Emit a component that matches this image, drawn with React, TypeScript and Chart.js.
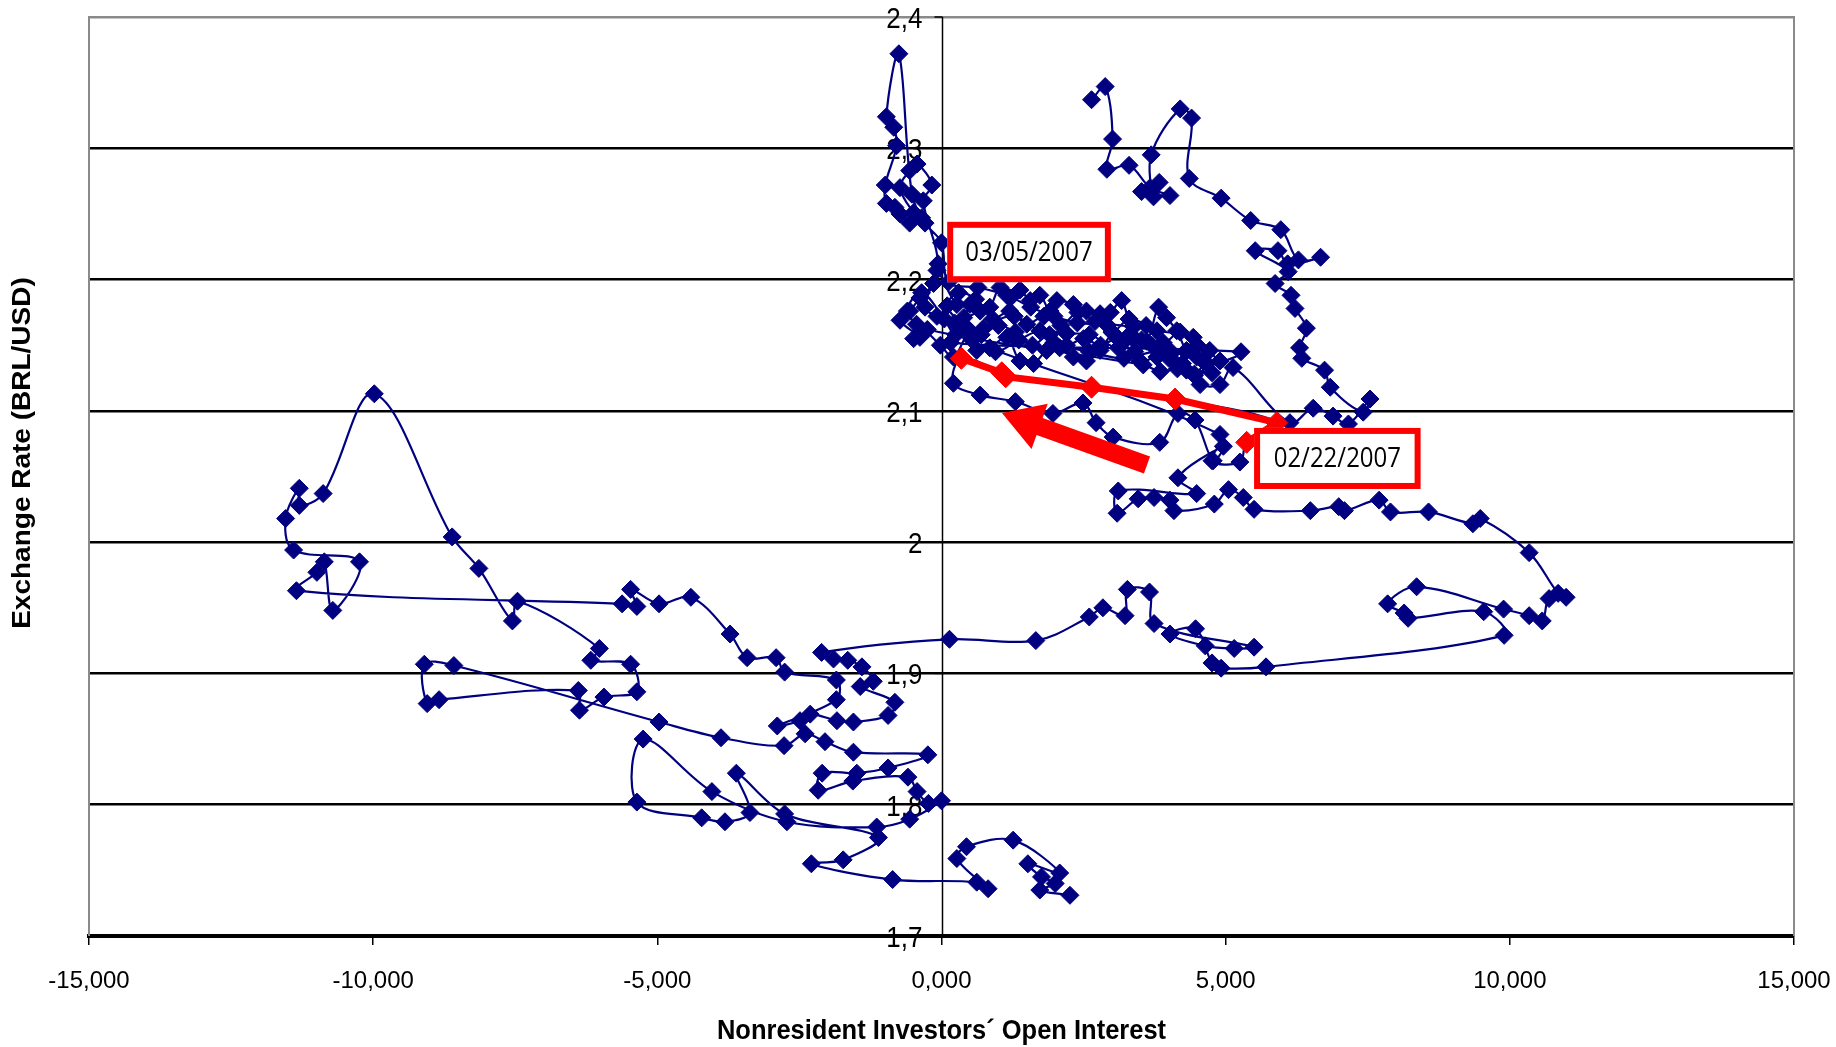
import React, { useEffect, useRef } from 'react';
import { Chart, registerables } from 'chart.js';

Chart.register(...registerables);

// Nonresident investors' open interest (x) and BRL/USD exchange rate (y), in path order
const openInterest = [
  2640, 2880, 3010, 2910, 3300, 3670, 4020, 3520, 3830, 3730, 3690, 4200, 4400, 4360, 4920, 5440, 5970, 6280, 6670, 6090,
  5920, 5520, 6100, 5870, 6150, 6220, 6420, 6300, 6340, 6740, 6840, 7420, 7540, 7160, 6890, 6540,
  6130, 5130, 4900, 4550, 4310, 4080, 3790, 3490, 3260, 3020, 2790, 2550, 2320, 2080, 1850, 1620, 1380, 1150, 850, 620,
  500, 210, -20, -440, -490, -380, -730, -560, -380, -140, -80, 270, 500, 390, 680, 850, 1030, 1210, 1380, 1560,
  1730, 1910, 2030, 2320, 2550, 2790, 2970, 3170, 3380, 3610, 3820, 3960, 4140, 4310, 4490, 4670,
  4450, 4040, 3520, 3110, 2600, 2200, 1730, 1360, 950, 540, 230, -80, -290, -60,
  -320, -170, -430, -560, -730, -490, -350, -560, -730, -820, -970, -990, -790, -840, -970, -750, -520, -290, 0,
  120, 640, 1150, 1570, 1980, 2390, 2900, 3380, 3790, 4430, 4720, 4900, 5270, 160, 740, 1280, 1980, 2600, 3210, 3830,
  4240, 4760,
  4500, 4200, 3900, 3600, 3300, 3000, 2700, 2400, 2100, 1800, 1500, 1200, 900, 600, 300, 100, 400, 700, 1000, 1300,
  1600, 1900, 2200, 2500, 2800, 3100, 3400, 3700, 4000, 4300, 4600, 4450, 4150, 3850, 3550, -250, -600, -350, 50, 250,
  4900, 4760, 5250,
  5370, 5900, 4110, 2640, 1130, 1060, 350,
  210, 680, 1300, 1960, 2490, 2720, 3020, 3840, 4160, 4460, 4780, 4960, 4160, 4490,
  3110, 3090, 3460, 3740, 4020, 4090, 4800, 5050, 5310, 5500, 6490, 6990, 7090, 7700, 7900, 8570, 9350, 9480, 10340, 10850,
  10990, 10690, 10570, 10340, 9890, 8360, 7850, 8140, 8210, 9540, 9900, 5710, 4920, 4760, 4470, 4020, 4640, 5150, 5500, 3740,
  3660, 3270, 3230, 2840, 2600, 1660, 140, -2110,
  -1900, -1650, -1400, -1200, -1430, -820, -940, -1550, -1840, -2310, -2490, -2890, -1850, -1850, -2760, -2910, -3420, -3720,
  -4410, -4970, -5470, -5360, -5620,
  -11350, -10990, -10860, -10710, -10240, -11400, -11540, -11300, -11300, -10880, -9980, -8610, -8140, -7550, -7460, -6020,
  -6170, -5470, -5360, -5940, -6370, -6390, -8840, -9050, -9100, -8580, -4970, -3880, -2770,
  -2400, -2050, -1550, -240, -940, -1490, -2100, -2170, -1560, -590, -430, -230, 0, -560, -1140, -2720, -4040, -5250, -5360,
  -4220, -3810, -3370, -3610, -2760, -1110, -1730, -2290, -860, 620, 820, 270, 440, 1260, 2080, 1520, 1760, 2000, 1730, 2260,
];

const exchangeRate = [
  2.337, 2.347, 2.307, 2.284, 2.287, 2.270, 2.264, 2.267, 2.274, 2.263, 2.295, 2.330, 2.323, 2.277, 2.262, 2.245, 2.238, 2.215, 2.217, 2.212,
  2.222, 2.222, 2.206, 2.197, 2.188, 2.178, 2.163, 2.148, 2.140, 2.131, 2.118, 2.099, 2.109, 2.090, 2.096, 2.102,
  2.091, 2.133, 2.120, 2.120, 2.131, 2.138, 2.141, 2.138, 2.156, 2.159, 2.146, 2.138, 2.141, 2.148, 2.146, 2.136, 2.138, 2.156, 2.148, 2.146,
  2.161, 2.141, 2.150, 2.166, 2.155, 2.156, 2.169, 2.176, 2.186, 2.197, 2.207, 2.181, 2.181, 2.171, 2.176, 2.179, 2.194, 2.186, 2.192, 2.184,
  2.188, 2.176, 2.184, 2.181, 2.176, 2.174, 2.175, 2.184, 2.156, 2.153, 2.179, 2.171, 2.161, 2.146, 2.141, 2.136,
  2.127, 2.145, 2.154, 2.148, 2.158, 2.159, 2.161, 2.154, 2.145, 2.154, 2.167, 2.172, 2.179, 2.212,
  2.260, 2.272, 2.288, 2.283, 2.270, 2.251, 2.247, 2.243, 2.250, 2.255, 2.258, 2.272, 2.302, 2.316, 2.324, 2.372, 2.265, 2.243, 2.228,
  2.198, 2.194, 2.188, 2.179, 2.172, 2.167, 2.166, 2.164, 2.161, 2.156, 2.146, 2.138, 2.145, 2.152, 2.163, 2.172, 2.152, 2.145, 2.140, 2.145,
  2.136, 2.129,
  2.150, 2.160, 2.152, 2.165, 2.170, 2.160, 2.168, 2.175, 2.165, 2.172, 2.166, 2.176, 2.170, 2.185, 2.190, 2.180, 2.165, 2.158, 2.165, 2.160,
  2.150, 2.158, 2.150, 2.155, 2.150, 2.155, 2.145, 2.150, 2.140, 2.145, 2.138, 2.128, 2.132, 2.130, 2.135, 2.162, 2.176, 2.190, 2.170, 2.158,
  2.082, 2.062, 2.061,
  2.076, 2.091, 2.109, 2.118, 2.126, 2.129, 2.140,
  2.121, 2.112, 2.107, 2.098, 2.106, 2.091, 2.080, 2.076, 2.098, 2.093, 2.062, 2.073, 2.049, 2.037,
  2.039, 2.022, 2.033, 2.034, 2.032, 2.024, 2.029, 2.040, 2.034, 2.025, 2.024, 2.027, 2.024, 2.032, 2.023, 2.023, 2.014, 2.018, 1.992, 1.961,
  1.958, 1.957, 1.940, 1.944, 1.949, 1.966, 1.953, 1.946, 1.942, 1.947, 1.929, 1.905, 1.904, 1.908, 1.934, 1.930, 1.921, 1.919, 1.920, 1.938,
  1.962, 1.964, 1.944, 1.950, 1.943, 1.925, 1.926, 1.916,
  1.911, 1.910, 1.905, 1.894, 1.890, 1.878, 1.868, 1.863, 1.864, 1.869, 1.864, 1.860, 1.880, 1.895, 1.901, 1.912, 1.912, 1.930,
  1.958, 1.953, 1.964, 1.951, 1.953,
  1.963, 1.977, 1.985, 1.948, 1.985, 1.994, 2.018, 2.041, 2.028, 2.037, 2.113, 2.004, 1.980, 1.940, 1.955, 1.919,
  1.910, 1.907, 1.886, 1.882, 1.872, 1.887, 1.880, 1.877, 1.907, 1.906, 1.863, 1.851, 1.845,
  1.854, 1.848, 1.840, 1.838, 1.828, 1.824, 1.824, 1.811, 1.818, 1.821, 1.810, 1.801, 1.803, 1.789, 1.783, 1.787, 1.810, 1.850, 1.802,
  1.790, 1.787, 1.794, 1.824, 1.793, 1.775, 1.758, 1.755, 1.743, 1.741, 1.736, 1.759, 1.768, 1.773, 1.748, 1.755, 1.745, 1.740, 1.735, 1.731,
];

// Highlighted episode: 02/22/2007 -> 03/05/2007
const highlightOpenInterest = [5370, 5900, 4110, 2640, 1130, 1060, 350];
const highlightRate = [2.076, 2.091, 2.109, 2.118, 2.126, 2.129, 2.140];

const xTickValues = [-15000, -10000, -5000, 0, 5000, 10000, 15000];
const xTickLabels = ['-15,000', '-10,000', '-5,000', '0,000', '5,000', '10,000', '15,000'];
const yTickValues = [1.7, 1.8, 1.9, 2.0, 2.1, 2.2, 2.3, 2.4];
const yTickLabels = ['1,7', '1,8', '1,9', '2', '2,1', '2,2', '2,3', '2,4'];

const xTitle = 'Nonresident Investors´ Open Interest';
const yTitle = 'Exchange Rate (BRL/USD)';

const calloutTexts = ['03/05/2007', '02/22/2007'];
const calloutX1 = [100, 5500];
const calloutX2 = [2980, 8430];
const calloutYTop = [2.244, 2.087];
const calloutYBottom = [2.198, 2.0405];

const arrowTailX = 3616;
const arrowTailY = 2.0588;
const arrowTipX = 1064;
const arrowTipY = 2.0984;

const NAVY = '#000080';
const RED = '#FF0000';
const FONT = '"Liberation Sans", Arial, sans-serif';

function drawText(
  ctx: CanvasRenderingContext2D,
  text: string,
  x: number,
  y: number,
  font: string,
  align: CanvasTextAlign,
  sx: number,
  sy: number,
  rot: number,
) {
  ctx.save();
  ctx.translate(x, y);
  if (rot) ctx.rotate(rot);
  ctx.scale(sx, sy);
  ctx.font = font;
  ctx.fillStyle = '#000';
  ctx.textAlign = align;
  ctx.textBaseline = 'middle';
  ctx.fillText(text, 0, 0);
  ctx.restore();
}

const decorPlugin = {
  id: 'decor',
  beforeDatasetsDraw(chart: any) {
    const ctx: CanvasRenderingContext2D = chart.ctx;
    const { left, right, top, bottom } = chart.chartArea;
    const xs = chart.scales.x;
    const ys = chart.scales.y;
    ctx.save();
    ctx.strokeStyle = '#8a8a8a';
    ctx.lineWidth = 2;
    ctx.beginPath();
    ctx.moveTo(left, bottom);
    ctx.lineTo(left, top);
    ctx.lineTo(right, top);
    ctx.lineTo(right, bottom);
    ctx.stroke();
    const x0 = Math.round(xs.getPixelForValue(0)) + 0.5;
    ctx.strokeStyle = '#000';
    ctx.lineWidth = 1.5;
    ctx.beginPath();
    ctx.moveTo(x0, top);
    ctx.lineTo(x0, bottom);
    ctx.stroke();
    yTickValues.forEach((v) => {
      const py = ys.getPixelForValue(v);
      ctx.beginPath();
      ctx.moveTo(x0 - 8, py);
      ctx.lineTo(x0, py);
      ctx.stroke();
    });
    ctx.restore();
    yTickValues.forEach((v, i) => {
      const py = ys.getPixelForValue(v);
      drawText(ctx, yTickLabels[i], x0 - 20, py + 3, `26px ${FONT}`, 'right', 1, 1.12, 0);
    });
  },
  afterDatasetsDraw(chart: any) {
    const ctx: CanvasRenderingContext2D = chart.ctx;
    const xs = chart.scales.x;
    const ys = chart.scales.y;
    calloutTexts.forEach((t, i) => {
      const x1 = xs.getPixelForValue(calloutX1[i]);
      const x2 = xs.getPixelForValue(calloutX2[i]);
      const y1 = ys.getPixelForValue(calloutYTop[i]);
      const y2 = ys.getPixelForValue(calloutYBottom[i]);
      ctx.save();
      ctx.fillStyle = '#fff';
      ctx.fillRect(x1, y1, x2 - x1, y2 - y1);
      ctx.strokeStyle = RED;
      ctx.lineWidth = 6;
      ctx.strokeRect(x1 + 3, y1 + 3, x2 - x1 - 6, y2 - y1 - 6);
      ctx.restore();
      drawText(ctx, t, (x1 + x2) / 2, (y1 + y2) / 2 + 1, `24px "Open Sans", ${FONT}`, 'center', 1, 1.12, 0);
    });
    const tx = xs.getPixelForValue(arrowTailX);
    const ty = ys.getPixelForValue(arrowTailY);
    const hx = xs.getPixelForValue(arrowTipX);
    const hy = ys.getPixelForValue(arrowTipY);
    const len = Math.hypot(hx - tx, hy - ty);
    const dx = (hx - tx) / len;
    const dy = (hy - ty) / len;
    const px = -dy;
    const py = dx;
    const shaft = 9;
    const headW = 24;
    const headL = 40;
    const nx = hx - dx * headL;
    const ny = hy - dy * headL;
    ctx.save();
    ctx.fillStyle = RED;
    ctx.beginPath();
    ctx.moveTo(tx + px * shaft, ty + py * shaft);
    ctx.lineTo(nx + px * shaft, ny + py * shaft);
    ctx.lineTo(nx + px * headW, ny + py * headW);
    ctx.lineTo(hx, hy);
    ctx.lineTo(nx - px * headW, ny - py * headW);
    ctx.lineTo(nx - px * shaft, ny - py * shaft);
    ctx.lineTo(tx - px * shaft, ty - py * shaft);
    ctx.closePath();
    ctx.fill();
    ctx.restore();
  },
  afterDraw(chart: any) {
    const ctx: CanvasRenderingContext2D = chart.ctx;
    const { left, right } = chart.chartArea;
    drawText(ctx, xTitle, (left + right) / 2, 1031, `bold 25px ${FONT}`, 'center', 1.02, 1.12, 0);
    drawText(ctx, yTitle, 23, 453, `bold 25px ${FONT}`, 'center', 1.12, 1, -Math.PI / 2);
  },
};

export default function App() {
  const canvasRef = useRef<HTMLCanvasElement | null>(null);

  useEffect(() => {
    document.body.style.margin = '0';
    const canvas = canvasRef.current;
    if (!canvas) return;
    const mainPoints = openInterest.map((x, i) => ({ x, y: exchangeRate[i] }));
    const redPoints = highlightOpenInterest.map((x, i) => ({ x, y: highlightRate[i] }));

    const chart = new Chart(canvas, {
      type: 'scatter',
      data: {
        datasets: [
          {
            data: redPoints,
            showLine: true,
            borderColor: RED,
            backgroundColor: RED,
            borderWidth: 7,
            tension: 0,
            pointStyle: 'rectRot',
            pointRadius: 11,
            pointBorderWidth: 1,
            pointBackgroundColor: RED,
            pointBorderColor: RED,
            order: 0,
          },
          {
            data: mainPoints,
            showLine: true,
            borderColor: NAVY,
            backgroundColor: NAVY,
            borderWidth: 2.2,
            tension: 0.35,
            pointStyle: 'rectRot',
            pointRadius: 9,
            pointBorderWidth: 1,
            pointBackgroundColor: NAVY,
            pointBorderColor: NAVY,
            order: 1,
          },
        ],
      },
      options: {
        responsive: false,
        animation: false,
        events: [],
        devicePixelRatio: 1,
        layout: { padding: { left: 89, right: 42, top: 17, bottom: 0 } },
        plugins: {
          legend: { display: false },
          tooltip: { enabled: false },
          title: { display: false },
        },
        scales: {
          x: {
            type: 'linear',
            position: 'bottom',
            min: -15000,
            max: 15000,
            afterBuildTicks: (scale: any) => {
              scale.ticks = xTickValues.map((v) => ({ value: v }));
            },
            afterFit: (scale: any) => {
              scale.height = 111;
              scale.paddingLeft = 0;
              scale.paddingRight = 0;
            },
            ticks: {
              autoSkip: false,
              maxRotation: 0,
              padding: 22,
              color: '#000',
              font: { family: FONT, size: 24 },
              callback: (value: any) => {
                const idx = xTickValues.indexOf(Number(value));
                return idx >= 0 ? xTickLabels[idx] : '';
              },
            },
            grid: {
              display: true,
              drawOnChartArea: false,
              drawTicks: true,
              tickLength: 9,
              color: '#000',
              lineWidth: 1.5,
            },
            border: { display: true, color: '#000', width: 4 },
          },
          y: {
            type: 'linear',
            position: 'left',
            min: 1.7,
            max: 2.4,
            afterBuildTicks: (scale: any) => {
              scale.ticks = yTickValues.map((v) => ({ value: v }));
            },
            afterFit: (scale: any) => {
              scale.width = 0;
              scale.paddingTop = 0;
              scale.paddingBottom = 0;
            },
            ticks: { display: false },
            grid: {
              display: true,
              drawOnChartArea: true,
              drawTicks: false,
              color: (c: any) => (c.tick && Math.abs(c.tick.value - 2.4) < 1e-9 ? '#8a8a8a' : '#000'),
              lineWidth: 2.5,
            },
            border: { display: false },
          },
        },
      },
      plugins: [decorPlugin],
    });
    return () => chart.destroy();
  }, []);

  return (
    <div style={{ position: 'fixed', left: 0, top: 0, width: 1836, height: 1047, background: '#fff' }}>
      <canvas ref={canvasRef} width={1836} height={1047} style={{ display: 'block', width: 1836, height: 1047 }} />
    </div>
  );
}
